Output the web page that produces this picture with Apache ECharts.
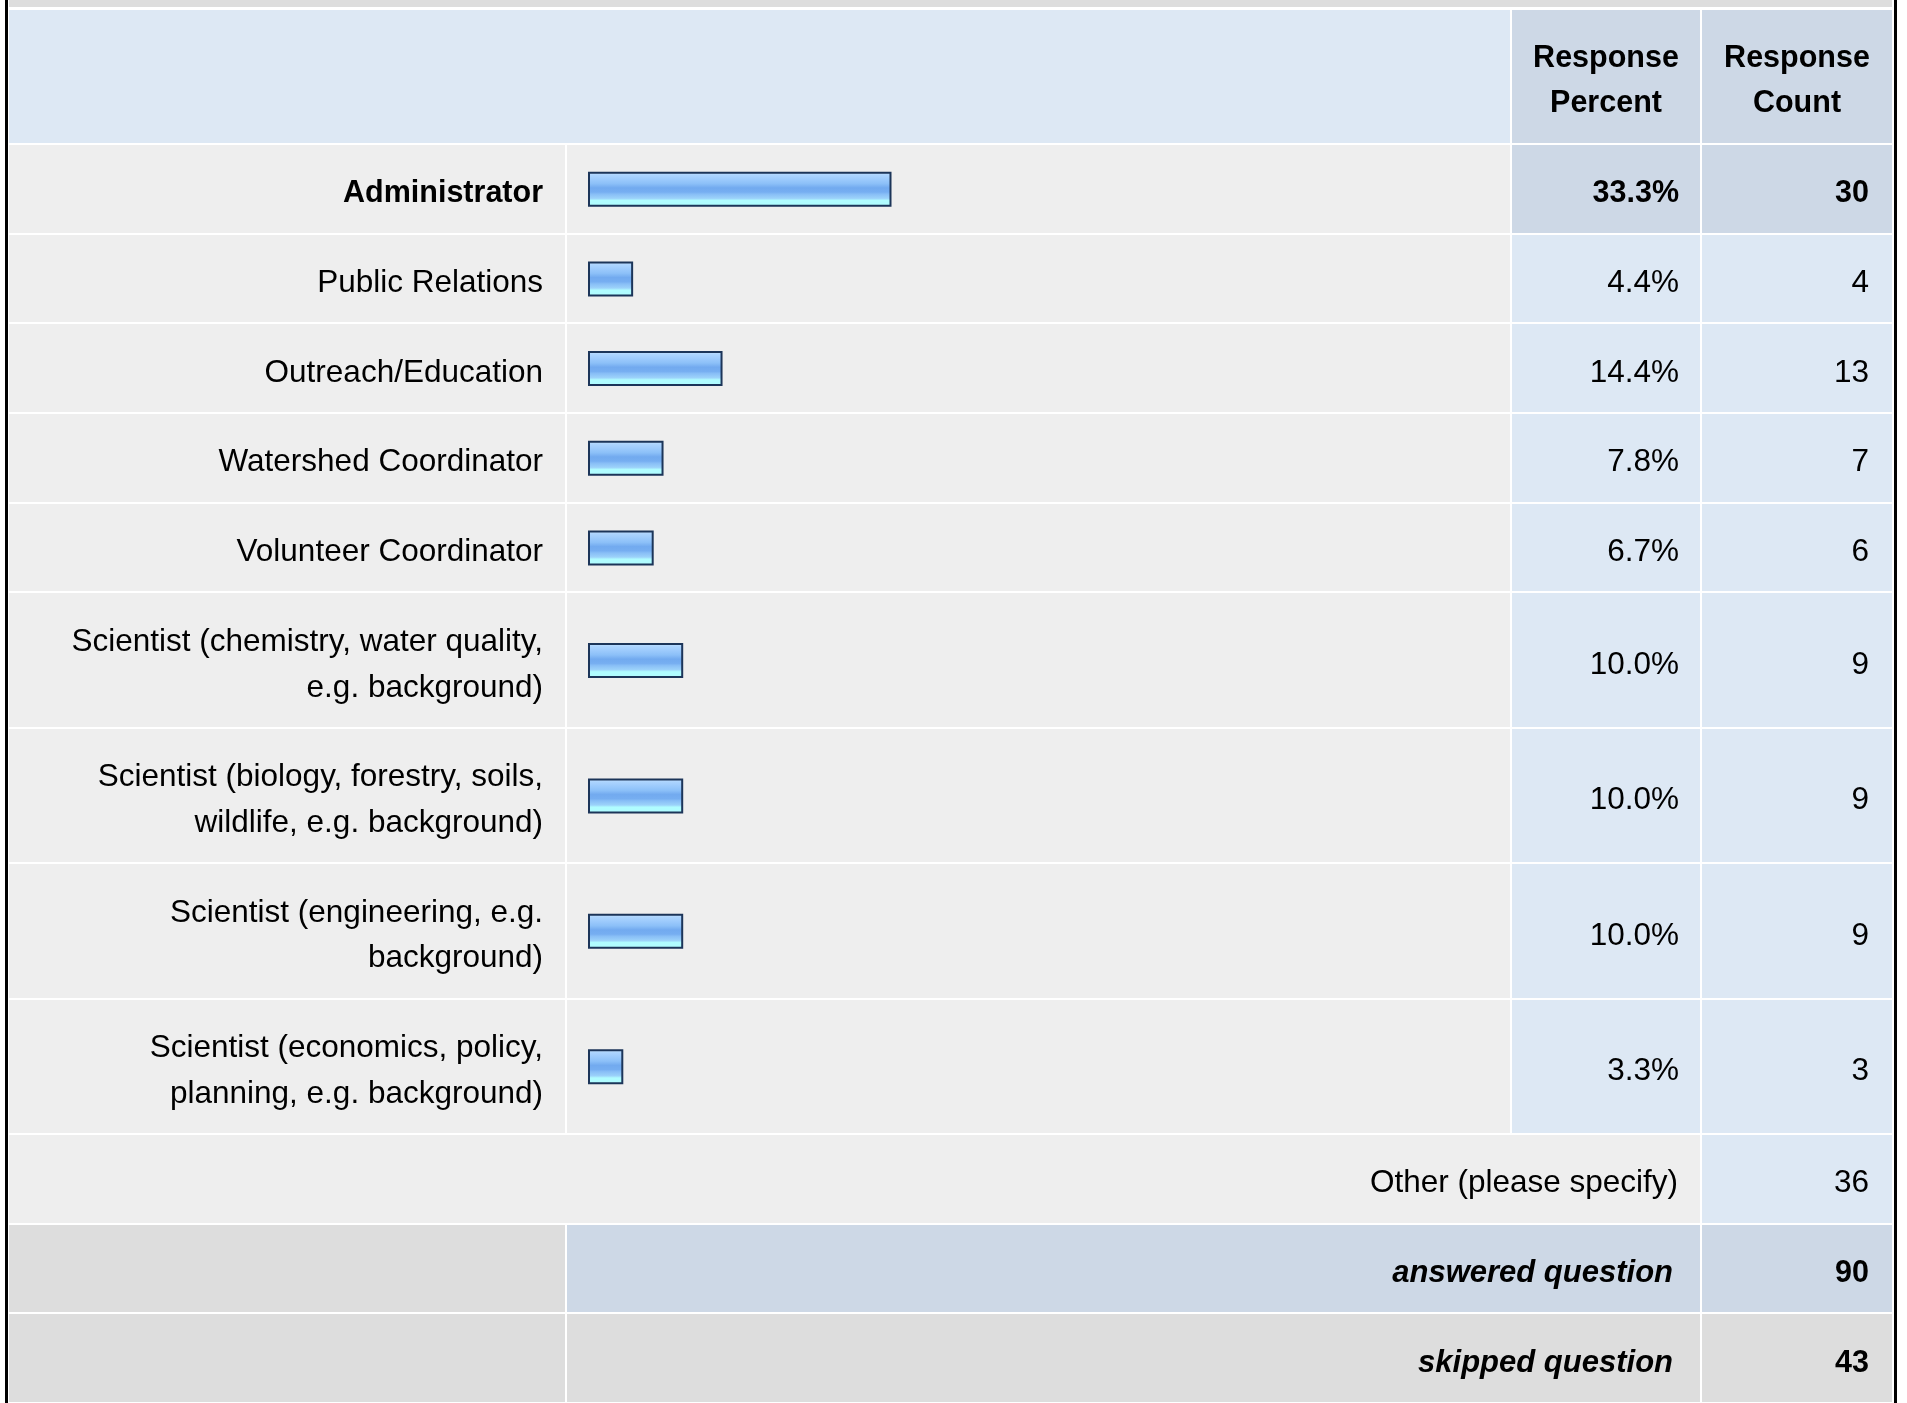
<!DOCTYPE html>
<html>
<head>
<meta charset="utf-8">
<title>Response table</title>
<script src="https://cdn.jsdelivr.net/npm/echarts@6/dist/echarts.min.js"></script>
<style>
html, body { margin: 0; padding: 0; background: #fff; }
#main { width: 1907px; height: 1403px; }
</style>
</head>
<body>
<div id="main"></div>
<script>
var categories = [
    'Administrator',
    'Public Relations',
    'Outreach/Education',
    'Watershed Coordinator',
    'Volunteer Coordinator',
    'Scientist (chemistry, water quality,\ne.g. background)',
    'Scientist (biology, forestry, soils,\nwildlife, e.g. background)',
    'Scientist (engineering, e.g.\nbackground)',
    'Scientist (economics, policy,\nplanning, e.g. background)'
];
var percents = [33.3, 4.4, 14.4, 7.8, 6.7, 10.0, 10.0, 10.0, 3.3];
var counts = [30, 4, 13, 7, 6, 9, 9, 9, 3];
var headerLabels = ['Response\nPercent', 'Response\nCount'];
var otherLabel = 'Other (please specify)';
var otherCount = 36;
var summaryLabels = ['answered question', 'skipped question'];
var summaryCounts = [90, 43];

var myChart = echarts.init(document.getElementById('main'));

var FONT = '"Liberation Sans", Arial, sans-serif';
var LINE = 45.75;         // px per text line
var PAD = 44 / LINE;      // cell padding, in lines

// row heights in text lines (+ padding); header has two lines
var rowSize = [2 + PAD];
categories.forEach(function (c) { rowSize.push(c.split('\n').length + PAD); });
rowSize.push(1 + PAD, 1 + PAD, 1 + PAD);
var rowStart = [0];
for (var i = 0; i < rowSize.length; i++) rowStart.push(rowStart[i] + rowSize[i]);
var total = rowStart[rowStart.length - 1];

var barData = percents.map(function (p, i) {
    return [p, rowStart[i + 1] + rowSize[i + 1] / 2];
});

var barFill = new echarts.graphic.LinearGradient(0, 0, 0, 1, [
    {offset: 0, color: '#c8e4ff'},
    {offset: 0.1, color: '#acd4fe'},
    {offset: 0.22, color: '#9ccafc'},
    {offset: 0.34, color: '#8cc0f8'},
    {offset: 0.46, color: '#72aaef'},
    {offset: 0.58, color: '#76aef1'},
    {offset: 0.64, color: '#88bef6'},
    {offset: 0.76, color: '#9cd2fa'},
    {offset: 0.82, color: '#b0fcff'},
    {offset: 1, color: '#b0fcff'}
]);

option = {
    backgroundColor: '#ffffff',
    animation: false,
    grid: {left: 591, width: 894, top: 8.5, height: total * LINE},
    xAxis: {type: 'value', min: 0, max: 100, show: false},
    yAxis: {type: 'value', min: 0, max: total, inverse: true, show: false},
    series: [
        {
            type: 'custom',
            z: 10,
            data: barData,
            encode: {x: 0, y: 1},
            renderItem: function (params, api) {
                var y = api.value(1);
                var start = api.coord([0, y]);
                var end = api.coord([api.value(0), y]);
                var h = 33;
                return {
                    type: 'rect',
                    shape: {x: start[0] - 2, y: start[1] - h / 2 + 0.5, width: end[0] - start[0] + 3.8, height: h},
                    style: {fill: barFill, stroke: '#1c3559', lineWidth: 2}
                };
            }
        }
    ]
};
myChart.setOption(option);

function py(u) {
    return myChart.convertToPixel({yAxisIndex: 0}, u);
}

var cols = [9, 565, 567, 1510, 1512, 1700, 1702, 1892];
var elements = [];

function cell(x0, x1, r, color) {
    var y0 = Math.round(py(rowStart[r])) + 1, y1 = Math.round(py(rowStart[r + 1])) - 1;
    elements.push({type: 'rect', z: 0, shape: {x: x0, y: y0, width: x1 - x0, height: y1 - y0}, style: {fill: color}});
}
function label(text, x, r, align, weight, style) {
    var bold = weight === 'bold';
    elements.push({
        type: 'text', z: 1,
        style: {
            text: text, x: x, y: (py(rowStart[r]) + py(rowStart[r + 1])) / 2 + 5,
            align: align, verticalAlign: 'middle',
            fontFamily: FONT, fontSize: bold ? (style ? 31 : 30.5) : 31.5,
            fontWeight: weight || 'normal', fontStyle: style || 'normal',
            lineHeight: LINE, fill: '#000'
        }
    });
}

// top strip and side borders
elements.push({type: 'rect', shape: {x: 9, y: 0, width: 1883, height: 7}, style: {fill: '#dddddd'}});
elements.push({type: 'rect', shape: {x: 5, y: 0, width: 3, height: 1403}, style: {fill: '#000'}});
elements.push({type: 'rect', shape: {x: 1894, y: 0, width: 3, height: 1403}, style: {fill: '#000'}});

// header
cell(cols[0], cols[3], 0, '#dde8f4');
cell(cols[4], cols[5], 0, '#cdd8e6');
cell(cols[6], cols[7], 0, '#cdd8e6');
label(headerLabels[0], (cols[4] + cols[5]) / 2, 0, 'center', 'bold');
label(headerLabels[1], (cols[6] + cols[7]) / 2, 0, 'center', 'bold');

categories.forEach(function (c, i) {
    var r = i + 1;
    var hi = i === 0;
    cell(cols[0], cols[1], r, '#eeeeee');
    cell(cols[2], cols[3], r, '#eeeeee');
    cell(cols[4], cols[5], r, hi ? '#cdd8e6' : '#dde8f4');
    cell(cols[6], cols[7], r, hi ? '#cdd8e6' : '#dde8f4');
    label(c, 543, r, 'right', hi ? 'bold' : 'normal');
    label(percents[i].toFixed(1) + '%', 1679, r, 'right', hi ? 'bold' : 'normal');
    label(String(counts[i]), 1869, r, 'right', hi ? 'bold' : 'normal');
});

var rOther = categories.length + 1;
cell(cols[0], cols[5], rOther, '#eeeeee');
cell(cols[6], cols[7], rOther, '#dde8f4');
label(otherLabel, 1678, rOther, 'right');
label(String(otherCount), 1869, rOther, 'right');

summaryLabels.forEach(function (s, k) {
    var r = rOther + 1 + k;
    var c = k === 0 ? '#cdd8e6' : '#dddddd';
    cell(cols[0], cols[1], r, '#dddddd');
    cell(cols[2], cols[5], r, c);
    cell(cols[6], cols[7], r, c);
    label(s, 1673, r, 'right', 'bold', 'italic');
    label(String(summaryCounts[k]), 1869, r, 'right', 'bold');
});

myChart.setOption({graphic: {elements: elements}});
</script>
</body>
</html>
